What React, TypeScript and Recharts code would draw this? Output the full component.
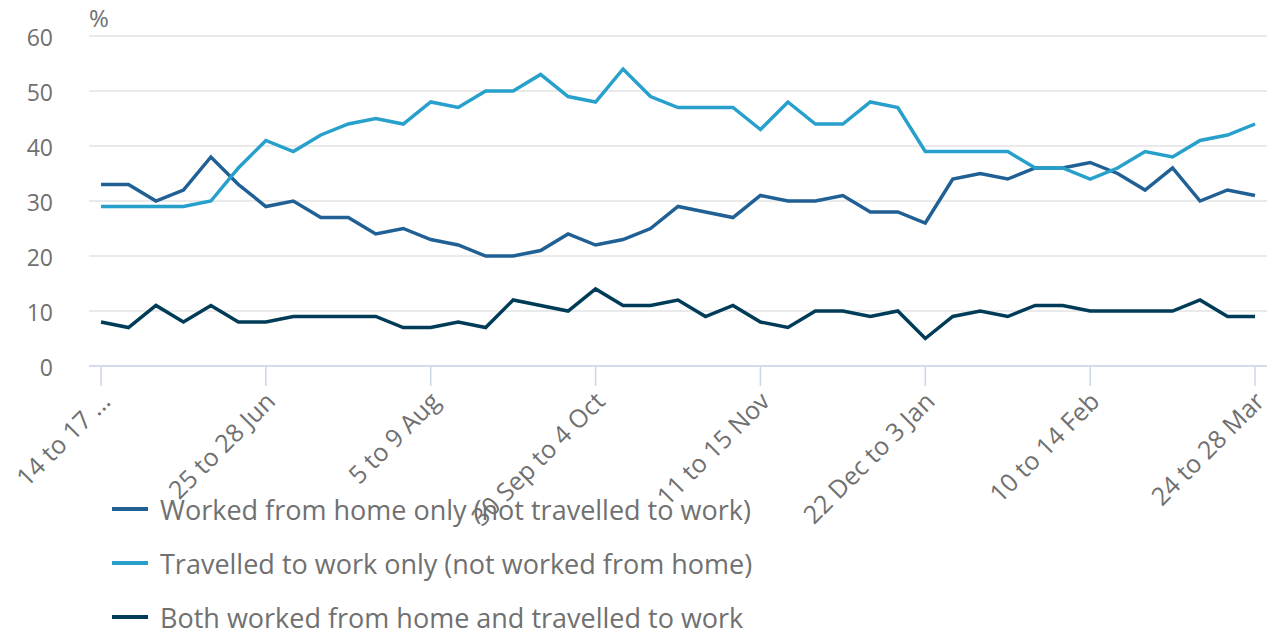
import { CartesianGrid, Legend, Line, LineChart, XAxis, YAxis } from 'recharts'

const weeks = [
    '14 to 17 May', '21 to 24 May', '28 to 31 May', '3 to 7 Jun', '10 to 14 Jun', '17 to 21 Jun',
    '25 to 28 Jun', '2 to 5 Jul', '8 to 12 Jul', '15 to 19 Jul', '22 to 26 Jul', '29 Jul to 2 Aug',
    '5 to 9 Aug', '12 to 16 Aug', '19 to 23 Aug', '2 to 6 Sep', '9 to 13 Sep', '16 to 20 Sep',
    '30 Sep to 4 Oct', '7 to 11 Oct', '14 to 18 Oct', '21 to 25 Oct', '28 Oct to 1 Nov', '5 to 8 Nov',
    '11 to 15 Nov', '18 to 22 Nov', '25 to 29 Nov', '2 to 6 Dec', '10 to 13 Dec', '16 to 20 Dec',
    '22 Dec to 3 Jan', '7 to 10 Jan', '13 to 17 Jan', '20 to 24 Jan', '27 to 31 Jan', '3 to 7 Feb',
    '10 to 14 Feb', '17 to 21 Feb', '24 to 28 Feb', '3 to 7 Mar', '10 to 14 Mar', '17 to 21 Mar',
    '24 to 28 Mar',
]

const workedFromHome = [
    33, 33, 30, 32, 38, 33, 29, 30, 27, 27, 24, 25, 23, 22, 20, 20, 21, 24, 22, 23, 25, 29,
    28, 27, 31, 30, 30, 31, 28, 28, 26, 34, 35, 34, 36, 36, 37, 35, 32, 36, 30, 32, 31,
]

const travelledToWork = [
    29, 29, 29, 29, 30, 36, 41, 39, 42, 44, 45, 44, 48, 47, 50, 50, 53, 49, 48, 54, 49, 47,
    47, 47, 43, 48, 44, 44, 48, 47, 39, 39, 39, 39, 36, 36, 34, 36, 39, 38, 41, 42, 44,
]

const bothHomeAndTravel = [
    8, 7, 11, 8, 11, 8, 8, 9, 9, 9, 9, 7, 7, 8, 7, 12, 11, 10, 14, 11, 11, 12,
    9, 11, 8, 7, 10, 10, 9, 10, 5, 9, 10, 9, 11, 11, 10, 10, 10, 10, 12, 9, 9,
]

const yTicks = [0, 10, 20, 30, 40, 50, 60]

const seriesInfo = [
    { key: 'home', label: 'Worked from home only (not travelled to work)', color: '#206095' },
    { key: 'travel', label: 'Travelled to work only (not worked from home)', color: '#27a0cc' },
    { key: 'both', label: 'Both worked from home and travelled to work', color: '#003c57' },
]

const data = weeks.map((week, i) => ({
    week,
    home: workedFromHome[i],
    travel: travelledToWork[i],
    both: bothHomeAndTravel[i],
}))

const textColor = '#707070'
const font = '"Open Sans", sans-serif'

const WeekTick = (props: any) => {
    const { x, y, payload } = props
    const label = payload.value === weeks[0] ? '14 to 17 ...' : payload.value
    return (
        <g transform={`translate(${x + 11},${y + 15})`}>
            <text
                x={0}
                y={0}
                textAnchor="end"
                transform="rotate(-45)"
                fill={textColor}
                fontSize={25}
                fontFamily={font}
            >
                {label}
            </text>
        </g>
    )
}

const LegendContent = () => (
    <div style={{ height: 150, paddingTop: 2, boxSizing: 'border-box', fontFamily: font }}>
        {seriesInfo.map((s) => (
            <div key={s.key} style={{ display: 'flex', alignItems: 'center', height: 54 }}>
                <span style={{ width: 36, height: 4, background: s.color, marginRight: 12 }} />
                <span style={{ fontSize: 27, lineHeight: 1, color: textColor }}>{s.label}</span>
            </div>
        ))}
    </div>
)

export default function App() {
    return (
        <div style={{ position: 'relative', width: 1267, height: 630 }}>
            <style>{'body{margin:0}'}</style>
            <div
                style={{
                    position: 'absolute',
                    left: 89,
                    top: 1,
                    fontSize: 24,
                    color: textColor,
                    fontFamily: font,
                }}
            >
                %
            </div>
            <LineChart
                width={1267}
                height={630}
                data={data}
                margin={{ top: 36, right: 0, left: 0, bottom: 0 }}
            >
                <CartesianGrid vertical={false} stroke="#e3e3e3" strokeWidth={1.5} />
                <XAxis
                    dataKey="week"
                    interval={5}
                    padding={{ left: 12, right: 12 }}
                    height={114}
                    tickSize={20}
                    stroke="#ccd6eb"
                    axisLine={{ stroke: '#ccd6eb', strokeWidth: 1.5 }}
                    tickLine={{ stroke: '#ccd6eb', strokeWidth: 1.5 }}
                    tick={<WeekTick />}
                />
                <YAxis
                    domain={[0, 60]}
                    ticks={yTicks}
                    width={89}
                    axisLine={false}
                    tickLine={false}
                    tickMargin={30}
                    tick={{ fill: textColor, fontSize: 23, fontFamily: font, dy: 2 }}
                />
                <Legend
                    verticalAlign="bottom"
                    align="left"
                    content={<LegendContent />}
                    wrapperStyle={{ left: 112, bottom: 0, width: 'auto' }}
                />
                {seriesInfo.map((s) => (
                    <Line
                        key={s.key}
                        type="linear"
                        dataKey={s.key}
                        name={s.label}
                        stroke={s.color}
                        strokeWidth={3.5}
                        dot={false}
                        isAnimationActive={false}
                    />
                ))}
            </LineChart>
        </div>
    )
}
